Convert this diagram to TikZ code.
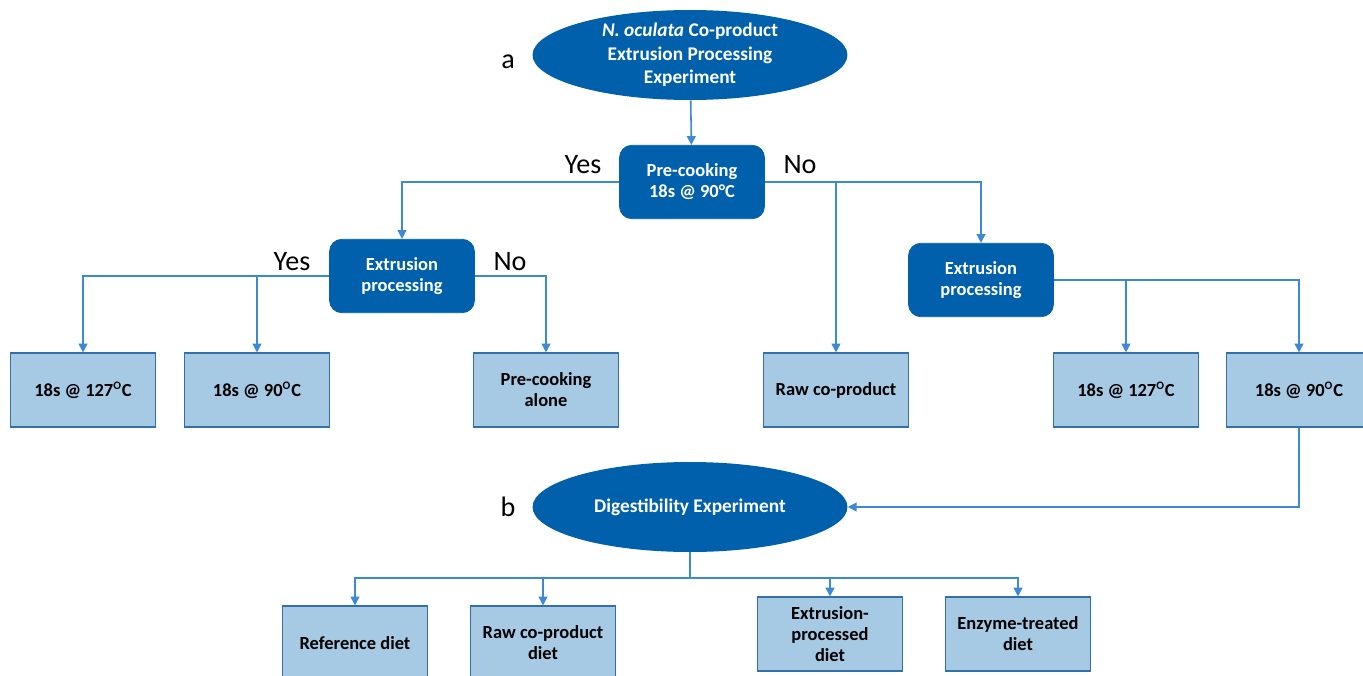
\documentclass[tikz,border=0pt]{standalone}
\usepackage{fontspec}
\setmainfont{Carlito}
\usepackage{tikz}
\usetikzlibrary{arrows.meta, shapes.geometric}

\definecolor{darkblue}{HTML}{0060AC}
\definecolor{lightblue}{HTML}{A6C9E4}
\definecolor{boxline}{HTML}{3470A8}
\definecolor{linkblue}{HTML}{3C8AD4}

% small raised O used as degree sign in the boxes
\newcommand{\degO}{\textsuperscript{\fontsize{6.5}{7}\selectfont O}}

\tikzset{
    experiment/.style={ellipse, fill=darkblue, text=white, inner sep=0pt,
        minimum width=6.3cm, minimum height=1.8cm, align=center,
        font=\bfseries\fontsize{11}{13.3}\selectfont},
    decision/.style={rectangle, rounded corners=7pt, fill=darkblue, draw=darkblue,
        text=white, minimum width=2.9cm, minimum height=1.47cm, align=center,
        font=\bfseries\fontsize{10.5}{12}\selectfont},
    outcome/.style={rectangle, fill=lightblue, draw=boxline, line width=0.9pt,
        minimum width=2.9cm, minimum height=1.47cm, align=center,
        font=\bfseries\fontsize{10.5}{12}\selectfont},
    answer/.style={font=\fontsize{16}{18}\selectfont},
    link/.style={draw=linkblue, line width=0.9pt,
        -{Triangle[length=5pt, width=5pt]}}
}

\begin{document}
\begin{tikzpicture}[x=0.02cm, y=-0.02cm]

    % Page size of the reference
    \useasboundingbox (0,0) rectangle (1363,676);

    % Part a: processing experiment
    \node[experiment] (extrusionexp) at (690,55)
        {\textit{N. oculata} Co-product\\Extrusion Processing\\Experiment};
    \node[answer] (labela) at (508,62) {a};

    \node[decision] (precook) at (692,182) {Pre-cooking\\18s @ 90°C};
    \node[answer] (yestop) at (583,165) {Yes};
    \node[answer] (notop) at (800,165) {No};

    \node[decision] (extleft) at (402,276) {Extrusion\\processing};
    \node[answer] (yesleft) at (292,262) {Yes};
    \node[answer] (noleft) at (510,262) {No};

    \node[decision] (extright) at (981,280) {Extrusion\\processing};

    % Outcomes of the processing
    \node[outcome] (hotpre) at (83,390) {18s @ 127\degO C};
    \node[outcome] (warmpre) at (257,390) {18s @ 90\degO C};
    \node[outcome] (preonly) at (546,390) {Pre-cooking\\alone};
    \node[outcome] (raw) at (836,390) {Raw co-product};
    \node[outcome] (hotraw) at (1126,390) {18s @ 127\degO C};
    \node[outcome] (warmraw) at (1299,390) {18s @ 90\degO C};

    % Part b: digestibility experiment
    \node[experiment] (digestexp) at (690,507) {Digestibility Experiment};
    \node[answer] (labelb) at (508,507) {b};
    \coordinate (fork) at (690,578);

    \node[outcome] (refdiet) at (355,643) {Reference diet};
    \node[outcome] (rawdiet) at (543,643) {Raw co-product\\diet};
    \node[outcome] (extdiet) at (830,634) {Extrusion-\\processed\\diet};
    \node[outcome] (enzdiet) at (1018,634) {Enzyme-treated\\diet};

    % Connectors of part a
    \draw[link] (extrusionexp) -- (precook);
    \draw[link] (precook.west) -| (extleft.north);
    \draw[link] (precook.east) -| (extright.north);
    \draw[link] (precook.east -| raw.north) -- (raw.north);

    \draw[link] (extleft.west) -| (hotpre.north);
    \draw[link] (extleft.west -| warmpre.north) -- (warmpre.north);
    \draw[link] (extleft.east) -| (preonly.north);

    \draw[link] (extright.east) -| (warmraw.north);
    \draw[link] (extright.east -| hotraw.north) -- (hotraw.north);

    % From part a to part b
    \draw[link] (warmraw.south) |- (digestexp.east);

    % Connectors of part b
    \draw[draw=linkblue, line width=0.9pt] (digestexp.south) -- (fork);
    \foreach \diet in {refdiet, rawdiet, extdiet, enzdiet}
        \draw[link] (fork) -| (\diet.north);

\end{tikzpicture}
\end{document}
